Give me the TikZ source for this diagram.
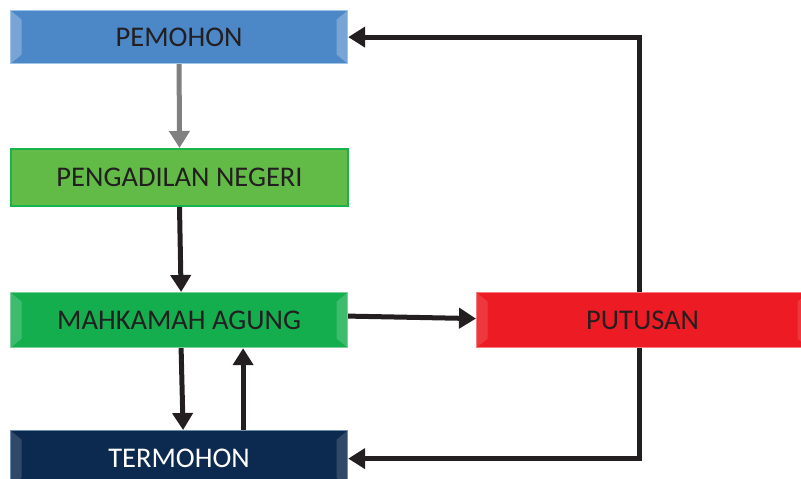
\documentclass[tikz,border=0pt]{standalone}
\usepackage{fontspec}
\setmainfont{Carlito}
\usetikzlibrary{arrows.meta,calc}
\definecolor{txt}{HTML}{231F20}
\definecolor{pemfill}{HTML}{4C87C8}
\definecolor{pemdraw}{HTML}{9DC3E6}
\definecolor{penfill}{HTML}{62BB47}
\definecolor{pendraw}{HTML}{19B24B}
\definecolor{mahfill}{HTML}{14AE4E}
\definecolor{mahdraw}{HTML}{80D09C}
\definecolor{terfill}{HTML}{0C2A4F}
\definecolor{terdraw}{HTML}{6F8DB0}
\definecolor{putfill}{HTML}{ED1C24}
\definecolor{putdraw}{HTML}{F47C7C}
\definecolor{grayarrow}{HTML}{808080}
\tikzset{
  box/.style={rectangle, anchor=north west, minimum height=55pt, inner sep=0pt,
    line width=1.2pt, text=txt, font=\fontsize{28.5}{34}\selectfont},
  bevel/.style={path picture={
    \fill[white,opacity=#1] (path picture bounding box.north west) -- ++(11pt,-9pt)
      -- ($(path picture bounding box.south west)+(11pt,9pt)$) -- (path picture bounding box.south west) -- cycle;
    \fill[white,opacity=#1] (path picture bounding box.north east) -- ++(-11pt,-9pt)
      -- ($(path picture bounding box.south east)+(-11pt,9pt)$) -- (path picture bounding box.south east) -- cycle;
  }},
  bevel/.default=0.3,
  conn/.style={line width=5pt, draw=txt, -{Triangle[width=20pt,length=17pt]}},
  grayconn/.style={line width=5pt, draw=grayarrow, -{Triangle[width=20pt,length=17pt]}}
}
\begin{document}
\begin{tikzpicture}[x=1pt,y=-1pt]
\useasboundingbox (0,0) rectangle (801,479);
\node[box, fill=pemfill, draw=pemdraw, minimum width=337pt, minimum height=53pt, bevel=0.25] (pem) at (10,10) {PEMOHON};
\node[box, fill=penfill, draw=pendraw, minimum width=337pt, minimum height=57pt, line width=2pt] (pen) at (10,148) {PENGADILAN NEGERI};
\node[box, fill=mahfill, draw=mahdraw, minimum width=337pt, bevel=0.18] (mah) at (10,292) {MAHKAMAH AGUNG};
\node[box, fill=terfill, draw=terdraw, minimum width=337pt, minimum height=56pt, text=white, bevel=0.15] (ter) at (10,430) {TERMOHON};
\node[box, fill=putfill, draw=putdraw, minimum width=332pt, bevel=0.12] (put) at (476,292) {PUTUSAN};
% connectors
\draw[grayconn] (pem.south) -- (pen.north);
\draw[conn] (pen.south) -- ($(mah.north)+(2,0)$);
\draw[conn] ($(mah.south)+(2,0)$) -- ($(ter.north)+(4,0)$);
\draw[conn] ($(ter.north)+(64,0)$) -- ($(mah.south)+(64,0)$);
\draw[conn] ($(mah.east)+(0,-4)$) -- ($(put.west)+(0,-1.5)$);
\draw[conn] ($(put.north)+(-3,0)$) |- (pem.east);
\draw[conn] ($(put.south)+(-3,0)$) |- (ter.east);
\end{tikzpicture}
\end{document}
